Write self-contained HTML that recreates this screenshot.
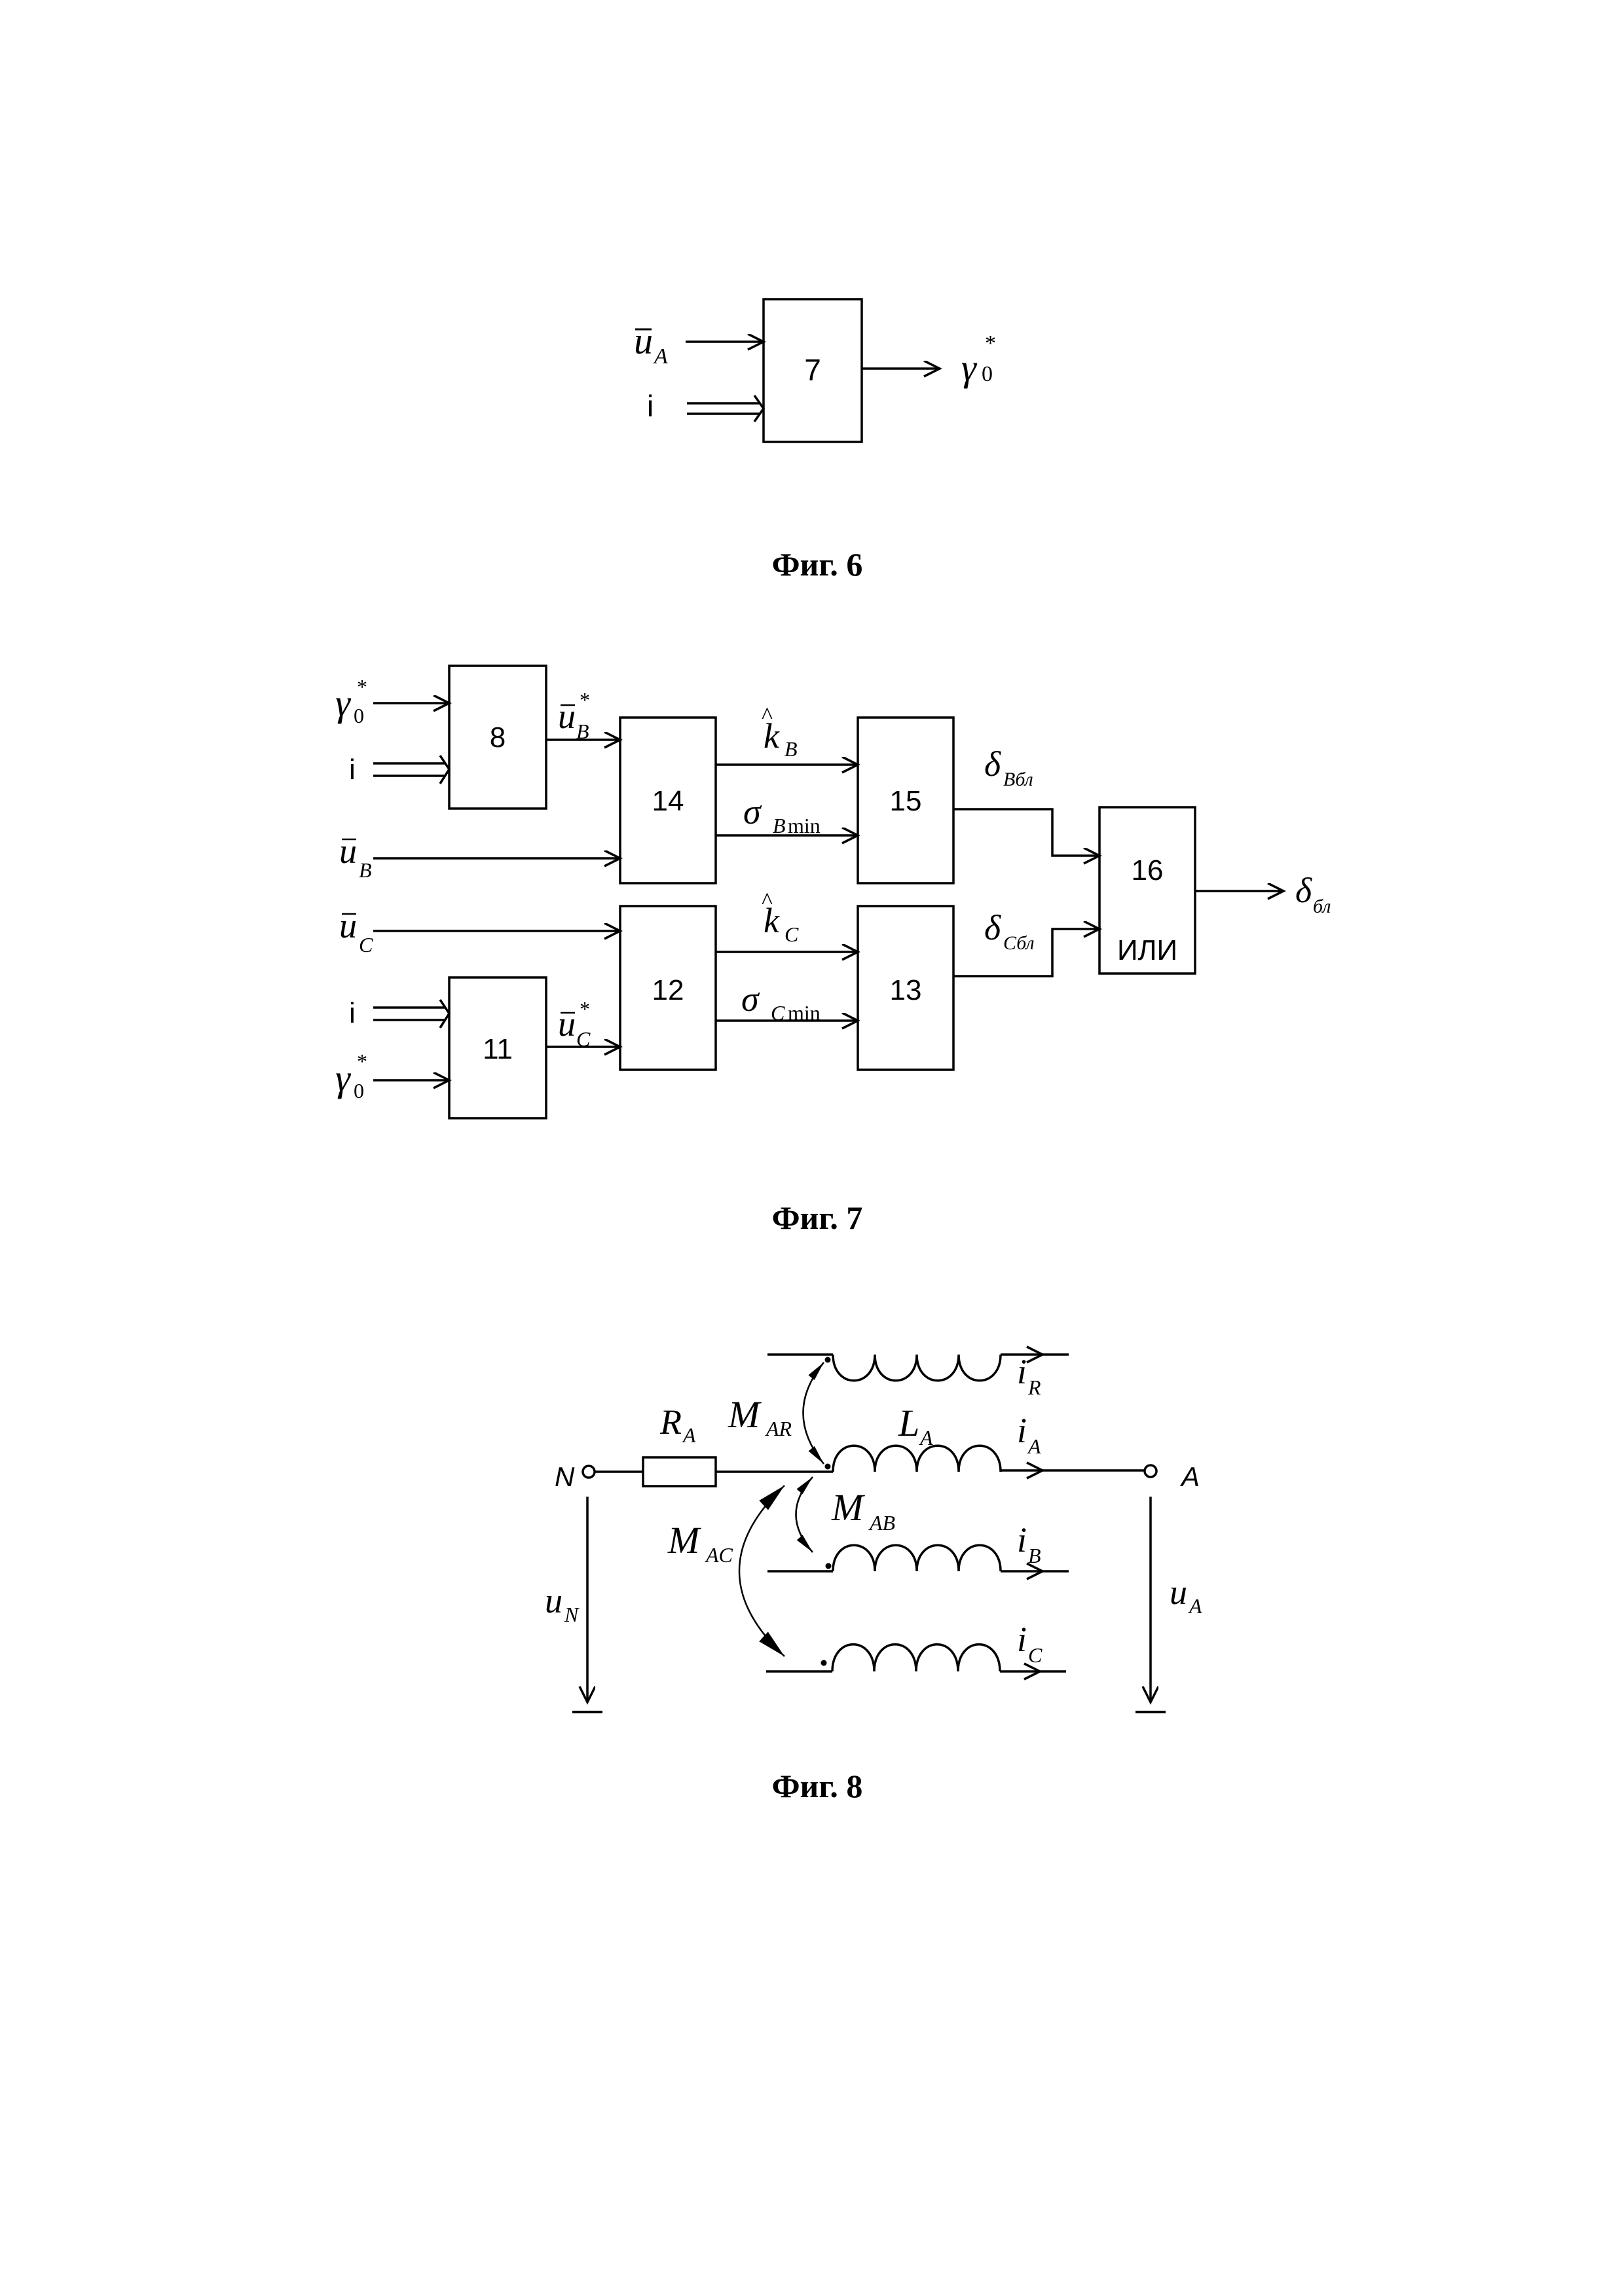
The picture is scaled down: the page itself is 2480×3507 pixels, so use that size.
<!DOCTYPE html>
<html><head><meta charset="utf-8"><style>
html,body{margin:0;padding:0;background:#fff;}
svg{display:block;}
text{font-family:"Liberation Serif",serif;fill:#000;}
.it, .it text{font-style:italic;}
.sans, .sans text{font-family:"Liberation Sans",sans-serif;}
.cap{font-weight:bold;font-size:50px;}
</style></head><body>
<svg width="2480" height="3507" viewBox="0 0 2480 3507" xmlns="http://www.w3.org/2000/svg">
<defs>
<marker id="ar" markerUnits="userSpaceOnUse" markerWidth="30" markerHeight="30" refX="26" refY="12" orient="auto">
<path d="M2,0 L26,12 L2,24" fill="none" stroke="#000" stroke-width="3.5"/>
</marker>
<marker id="fa" markerUnits="userSpaceOnUse" markerWidth="40" markerHeight="30" refX="30" refY="10" orient="auto-start-reverse">
<path d="M0,4 L30,10 L0,16 Z" fill="#000"/>
</marker>
<marker id="fb" markerUnits="userSpaceOnUse" markerWidth="60" markerHeight="40" refX="44" refY="14" orient="auto-start-reverse">
<path d="M0,4 L44,14 L0,24 Z" fill="#000"/>
</marker>
</defs>
<g stroke="#000" stroke-width="3.5" fill="none">
<rect x="1166" y="457" width="150" height="218"/>
<line x1="1047" y1="522" x2="1166" y2="522" marker-end="url(#ar)"/>
<line x1="1049" y1="616" x2="1160" y2="616"/>
<line x1="1049" y1="632" x2="1160" y2="632"/>
<path d="M1152,604 L1166,624 L1152,644"/>
<line x1="1316" y1="563" x2="1435" y2="563" marker-end="url(#ar)"/>

<rect x="686" y="1017" width="148" height="218"/>
<rect x="947" y="1096" width="146" height="253"/>
<rect x="1310" y="1096" width="146" height="253"/>
<rect x="947" y="1384" width="146" height="250"/>
<rect x="1310" y="1384" width="146" height="250"/>
<rect x="1679" y="1233" width="146" height="254"/>
<rect x="686" y="1493" width="148" height="215"/>
<line x1="570" y1="1074" x2="686" y2="1074" marker-end="url(#ar)"/>
<line x1="570" y1="1166" x2="680" y2="1166"/>
<line x1="570" y1="1185" x2="680" y2="1185"/>
<path d="M672,1154 L686,1175 L672,1197"/>
<line x1="834" y1="1130" x2="947" y2="1130" marker-end="url(#ar)"/>
<line x1="570" y1="1311" x2="947" y2="1311" marker-end="url(#ar)"/>
<line x1="1093" y1="1168" x2="1310" y2="1168" marker-end="url(#ar)"/>
<line x1="1093" y1="1276" x2="1310" y2="1276" marker-end="url(#ar)"/>
<polyline points="1456,1236 1607,1236 1607,1307 1679,1307" marker-end="url(#ar)"/>
<line x1="570" y1="1422" x2="947" y2="1422" marker-end="url(#ar)"/>
<line x1="1093" y1="1454" x2="1310" y2="1454" marker-end="url(#ar)"/>
<line x1="1093" y1="1559" x2="1310" y2="1559" marker-end="url(#ar)"/>
<polyline points="1456,1491 1607,1491 1607,1419 1679,1419" marker-end="url(#ar)"/>
<line x1="570" y1="1539" x2="680" y2="1539"/>
<line x1="570" y1="1558" x2="680" y2="1558"/>
<path d="M672,1527 L686,1548 L672,1570"/>
<line x1="570" y1="1650" x2="686" y2="1650" marker-end="url(#ar)"/>
<line x1="834" y1="1599" x2="947" y2="1599" marker-end="url(#ar)"/>
<line x1="1825" y1="1361" x2="1960" y2="1361" marker-end="url(#ar)"/>

<circle cx="899" cy="2248" r="9"/>
<line x1="908" y1="2248" x2="982" y2="2248"/>
<rect x="982" y="2226" width="111" height="44"/>
<line x1="1093" y1="2248" x2="1272" y2="2248"/>
<path d="M1272,2248 C1272,2195 1336,2195 1336,2248 C1336,2195 1400,2195 1400,2248 C1400,2195 1464,2195 1464,2248 C1464,2195 1528,2195 1528,2248"/>
<line x1="1528" y1="2246" x2="1748" y2="2246"/>
<path d="M1568,2234 L1592,2246 L1568,2258"/>
<circle cx="1757" cy="2247" r="9"/>
<line x1="1172" y1="2069" x2="1272" y2="2069"/>
<path d="M1272,2069 C1272,2122 1336,2122 1336,2069 C1336,2122 1400,2122 1400,2069 C1400,2122 1464,2122 1464,2069 C1464,2122 1528,2122 1528,2069"/>
<line x1="1528" y1="2069" x2="1632" y2="2069"/>
<path d="M1568,2057 L1592,2069 L1568,2081"/>
<line x1="1172" y1="2400" x2="1272" y2="2400"/>
<path d="M1272,2400 C1272,2347 1336,2347 1336,2400 C1336,2347 1400,2347 1400,2400 C1400,2347 1464,2347 1464,2400 C1464,2347 1528,2347 1528,2400"/>
<line x1="1528" y1="2400" x2="1632" y2="2400"/>
<path d="M1568,2388 L1592,2400 L1568,2412"/>
<line x1="1170" y1="2553" x2="1271" y2="2553"/>
<path d="M1271,2553 C1271,2498 1335,2498 1335,2553 C1335,2498 1399,2498 1399,2553 C1399,2498 1463,2498 1463,2553 C1463,2498 1527,2498 1527,2553"/>
<line x1="1527" y1="2553" x2="1628" y2="2553"/>
<path d="M1564,2541 L1588,2553 L1564,2565"/>
<path d="M1258,2081 Q1195,2158 1258,2236" stroke-width="2.5" marker-start="url(#fa)" marker-end="url(#fa)"/>
<path d="M1241,2256 Q1190,2313 1241,2371" stroke-width="2.5" marker-start="url(#fa)" marker-end="url(#fa)"/>
<path d="M1198,2269 Q1060,2400 1198,2530" stroke-width="2.5" marker-start="url(#fb)" marker-end="url(#fb)"/>
<line x1="897" y1="2286" x2="897" y2="2600" marker-end="url(#ar)"/>
<line x1="874" y1="2615" x2="920" y2="2615" stroke-width="4"/>
<line x1="1757" y1="2286" x2="1757" y2="2600" marker-end="url(#ar)"/>
<line x1="1734" y1="2615" x2="1780" y2="2615" stroke-width="4"/>
</g>
<g fill="#000">
<circle cx="1264" cy="2077" r="4.5"/><circle cx="1264" cy="2240" r="4.5"/>
<circle cx="1265" cy="2392" r="4.5"/><circle cx="1258" cy="2540" r="4.5"/>
</g>

<text class="it" x="968" y="540" font-size="58">u</text>
<line x1="970" y1="503" x2="995" y2="503" stroke="#000" stroke-width="3"/>
<text class="it" x="999" y="555" font-size="34">A</text>
<text class="sans" x="988" y="636" font-size="46">i</text>
<text class="sans" x="1241" y="581" font-size="46" text-anchor="middle">7</text>
<text class="it" x="1468" y="581" font-size="58">γ</text>
<text x="1499" y="582" font-size="34">0</text>
<text x="1504" y="535" font-size="34">*</text>
<text class="cap" x="1248" y="879" text-anchor="middle">Фиг. 6</text>

<g class="it">
<text x="512" y="1093" font-size="58">γ</text>
<text x="540" y="1104" font-size="32" style="font-style:normal">0</text>
<text x="545" y="1060" font-size="32" style="font-style:normal">*</text>
<text x="512" y="1666" font-size="58">γ</text>
<text x="540" y="1677" font-size="32" style="font-style:normal">0</text>
<text x="545" y="1632" font-size="32" style="font-style:normal">*</text>
<text x="852" y="1112" font-size="54">u</text>
<text x="880" y="1128" font-size="32">B</text>
<text x="885" y="1080" font-size="32" style="font-style:normal">*</text>
<text x="852" y="1582" font-size="54">u</text>
<text x="880" y="1598" font-size="32">C</text>
<text x="885" y="1552" font-size="32" style="font-style:normal">*</text>
<text x="518" y="1318" font-size="54">u</text>
<text x="548" y="1340" font-size="32">B</text>
<text x="518" y="1432" font-size="54">u</text>
<text x="548" y="1454" font-size="32">C</text>
<text x="1166" y="1142" font-size="54">k</text>
<text x="1163" y="1105" font-size="36" style="font-style:normal">^</text>
<text x="1198" y="1155" font-size="32">B</text>
<text x="1166" y="1424" font-size="54">k</text>
<text x="1163" y="1388" font-size="36" style="font-style:normal">^</text>
<text x="1198" y="1438" font-size="32">C</text>
<text x="1135" y="1258" font-size="54">σ</text>
<text x="1180" y="1272" font-size="32">B</text>
<text x="1203" y="1272" font-size="32" style="font-style:normal">min</text>
<text x="1132" y="1544" font-size="54">σ</text>
<text x="1177" y="1558" font-size="32">C</text>
<text x="1203" y="1558" font-size="32" style="font-style:normal">min</text>
<text x="1503" y="1185" font-size="54">δ</text>
<text x="1532" y="1200" font-size="30">Вбл</text>
<text x="1503" y="1435" font-size="54">δ</text>
<text x="1532" y="1450" font-size="30">Сбл</text>
<text x="1978" y="1378" font-size="54">δ</text>
<text x="2005" y="1394" font-size="30">бл</text>
</g>
<g stroke="#000" stroke-width="2.5">
<line x1="856" y1="1077" x2="878" y2="1077"/>
<line x1="856" y1="1547" x2="878" y2="1547"/>
<line x1="522" y1="1282" x2="544" y2="1282"/>
<line x1="522" y1="1396" x2="544" y2="1396"/>
</g>
<text class="sans" x="533" y="1190" font-size="44">i</text>
<text class="sans" x="533" y="1562" font-size="44">i</text>
<g class="sans" font-size="44" text-anchor="middle">
<text x="760" y="1141">8</text>
<text x="1020" y="1238">14</text>
<text x="1383" y="1238">15</text>
<text x="1752" y="1344">16</text>
<text x="1752" y="1466">ИЛИ</text>
<text x="1020" y="1527">12</text>
<text x="1383" y="1527">13</text>
<text x="760" y="1617">11</text>
</g>
<text class="cap" x="1248" y="1877" text-anchor="middle">Фиг. 7</text>

<g class="it">
<text x="1008" y="2190" font-size="54">R</text><text x="1043" y="2203" font-size="32">A</text>
<text x="1112" y="2180" font-size="58">M</text><text x="1170" y="2193" font-size="32">AR</text>
<text x="1372" y="2193" font-size="58">L</text><text x="1405" y="2207" font-size="32">A</text>
<text x="1553" y="2113" font-size="54">i</text><text x="1570" y="2130" font-size="32">R</text>
<text x="1553" y="2203" font-size="54">i</text><text x="1570" y="2220" font-size="32">A</text>
<text x="1270" y="2322" font-size="58">M</text><text x="1328" y="2337" font-size="32">AB</text>
<text x="1020" y="2372" font-size="58">M</text><text x="1078" y="2386" font-size="32">AC</text>
<text x="1553" y="2370" font-size="54">i</text><text x="1570" y="2387" font-size="32">B</text>
<text x="1553" y="2522" font-size="54">i</text><text x="1570" y="2539" font-size="32">C</text>
<text x="832" y="2463" font-size="54">u</text><text x="862" y="2477" font-size="32">N</text>
<text x="1786" y="2450" font-size="54">u</text><text x="1816" y="2464" font-size="32">A</text>
</g>
<text class="sans" x="847" y="2270" font-size="42" font-style="italic">N</text>
<text class="sans" x="1804" y="2270" font-size="42" font-style="italic">A</text>
<text class="cap" x="1248" y="2745" text-anchor="middle">Фиг. 8</text>
</svg>
</body></html>
